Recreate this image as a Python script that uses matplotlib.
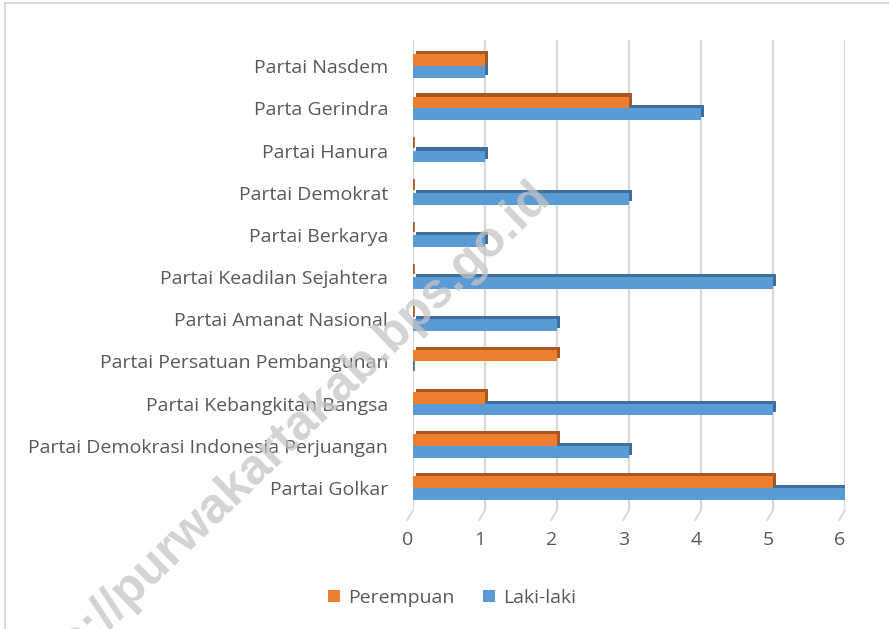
import matplotlib
matplotlib.use("Agg")
from matplotlib import pyplot as plt
import matplotlib.patheffects as pe
import matplotlib.transforms as mtransforms
from matplotlib.patches import Patch
from matplotlib.lines import Line2D
import numpy as np

plt.rcParams['font.family'] = ['Open Sans', 'DejaVu Sans']

# data, bottom to top as in the chart
partai = ["Partai Golkar",
          "Partai Demokrasi Indonesia Perjuangan",
          "Partai Kebangkitan Bangsa",
          "Partai Persatuan Pembangunan",
          "Partai Amanat Nasional",
          "Partai Keadilan Sejahtera",
          "Partai Berkarya",
          "Partai Demokrat",
          "Partai Hanura",
          "Parta Gerindra",
          "Partai Nasdem"]
laki_laki = [6, 3, 5, 0, 2, 5, 1, 3, 1, 4, 1]
perempuan = [5, 2, 1, 2, 0, 0, 0, 0, 0, 3, 1]
x_ticks = [0, 1, 2, 3, 4, 5, 6]

ORANGE = "#ED7D31"
BLUE = "#5B9BD5"
ORANGE_DARK = "#A9561F"
BLUE_DARK = "#3F6E9A"
TEXT = "#595959"
FS = 14

W, H = 889, 629
fig = plt.figure(figsize=(W / 100, H / 100), dpi=100)
ax = fig.add_axes([413 / W, 1 - 510 / H, (845 - 413) / W, (510 - 40) / H])

y = np.arange(len(partai))
h = 0.28
lk = np.array(laki_laki)
pr = np.array(perempuan)

# blue first so the orange bar covers its top face
ax.barh(y - h / 2, lk, height=h, color=BLUE, zorder=3,
        path_effects=[pe.SimplePatchShadow(offset=(2.2, 2.2), shadow_rgbFace=BLUE_DARK, alpha=1),
                      pe.Normal()])
ax.barh(y + h / 2, pr, height=h, color=ORANGE, zorder=4,
        path_effects=[pe.SimplePatchShadow(offset=(2.2, 2.2), shadow_rgbFace=ORANGE_DARK, alpha=1),
                      pe.Normal()])
# zero-valued bars still show a thin sliver of their side face
ax.barh(y[lk == 0] - h / 2 + 0.03, lk[lk == 0], height=h * 0.9, color=BLUE_DARK, edgecolor=BLUE_DARK,
        linewidth=2.6, zorder=3)
ax.barh(y[pr == 0] + h / 2 + 0.05, pr[pr == 0], height=h * 0.9, color=ORANGE_DARK, edgecolor=ORANGE_DARK,
        linewidth=2.6, zorder=4)

ax.set_xlim(0, 6)
ax.set_ylim(-0.52, len(partai) - 1 + 0.62)
ax.set_xticks(x_ticks)
ax.set_yticks(y)
ax.set_yticklabels(partai)
ax.tick_params(axis='y', length=0, pad=18, labelsize=FS, labelcolor=TEXT)
ax.tick_params(axis='x', length=0, pad=15, labelsize=FS, labelcolor=TEXT)
shift = mtransforms.ScaledTranslation(-5 / 100, 0, fig.dpi_scale_trans)
for lbl in ax.get_xticklabels():
    lbl.set_transform(lbl.get_transform() + shift)
ax.grid(axis='x', color="#D9D9D9", linewidth=1.6, zorder=0)
for s in ax.spines.values():
    s.set_visible(False)

# little slanted floor ticks under the grid lines
for t in x_ticks:
    ax.plot([t, t - 0.08], [-0.52, -0.76], color="#D9D9D9", linewidth=1.4, clip_on=False, zorder=0)

# legend
handles = [Patch(facecolor=ORANGE, label="Perempuan"), Patch(facecolor=BLUE, label="Laki-laki")]
fig.legend(handles=handles, loc='center', bbox_to_anchor=(452 / W, 1 - 598 / H), ncol=2,
           frameon=False, fontsize=FS, labelcolor=TEXT, handlelength=0.6, handleheight=0.6,
           handletextpad=0.4, columnspacing=1.5)

# outer border
fig.add_artist(Line2D([5 / W, 5 / W], [0, 1 - 3 / H], color="#D9D9D9", linewidth=1.5))
fig.add_artist(Line2D([5 / W, 1], [1 - 3 / H, 1 - 3 / H], color="#D9D9D9", linewidth=1.5))

# watermark
fig.text(552 / W, 1 - 198 / H, "http://purwakartakab.bps.go.id", rotation=44,
         rotation_mode='anchor', ha='right', va='baseline', fontsize=36,
         fontweight='bold', family='Liberation Sans', color="#C4C4C4", alpha=0.75, zorder=10)

fig.savefig("out.png", dpi=100)
